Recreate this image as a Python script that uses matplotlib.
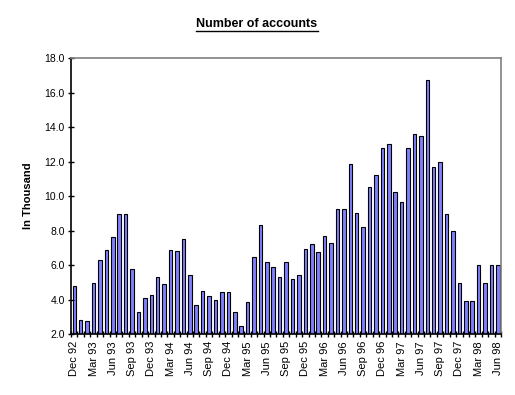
import numpy as np
import matplotlib.pyplot as plt
from matplotlib.lines import Line2D

plt.rcParams['font.family'] = ['Liberation Sans', 'DejaVu Sans']

# monthly values, Dec 92 .. Jun 98 (thousands)
months = ["Dec 92", "Jan 93", "Feb 93", "Mar 93", "Apr 93", "May 93", "Jun 93", "Jul 93",
          "Aug 93", "Sep 93", "Oct 93", "Nov 93", "Dec 93", "Jan 94", "Feb 94", "Mar 94",
          "Apr 94", "May 94", "Jun 94", "Jul 94", "Aug 94", "Sep 94", "Oct 94", "Nov 94",
          "Dec 94", "Jan 95", "Feb 95", "Mar 95", "Apr 95", "May 95", "Jun 95", "Jul 95",
          "Aug 95", "Sep 95", "Oct 95", "Nov 95", "Dec 95", "Jan 96", "Feb 96", "Mar 96",
          "Apr 96", "May 96", "Jun 96", "Jul 96", "Aug 96", "Sep 96", "Oct 96", "Nov 96",
          "Dec 96", "Jan 97", "Feb 97", "Mar 97", "Apr 97", "May 97", "Jun 97", "Jul 97",
          "Aug 97", "Sep 97", "Oct 97", "Nov 97", "Dec 97", "Jan 98", "Feb 98", "Mar 98",
          "Apr 98", "May 98", "Jun 98"]
accounts = [4.8, 2.85, 2.75, 4.95, 6.3, 6.85, 7.65, 8.95,
            8.95, 5.75, 3.3, 4.1, 4.25, 5.3, 4.9, 6.9,
            6.8, 7.5, 5.4, 3.7, 4.5, 4.2, 4.0, 4.45,
            4.45, 3.3, 2.45, 3.85, 6.45, 8.3, 6.2, 5.9,
            5.3, 6.2, 5.2, 5.4, 6.95, 7.2, 6.75, 7.7,
            7.3, 9.25, 9.25, 11.85, 9.0, 8.2, 10.55, 11.2,
            12.8, 13.0, 10.25, 9.65, 12.8, 13.6, 13.5, 16.7,
            11.7, 12.0, 8.95, 7.95, 4.95, 3.95, 3.95, 6.0,
            4.95, 6.0, 6.0]

y_ticks = np.arange(2.0, 18.01, 2.0)

fig = plt.figure(figsize=(5.15, 3.95), dpi=100)
ax = fig.add_axes([0.138, 0.154, 0.835, 0.699])

x = np.arange(len(months))
ax.bar(x, np.array(accounts) - 2.0, bottom=2.0, width=0.55,
       color="#8080ff", edgecolor="black", linewidth=0.8)

ax.set_xlim(-0.5, len(months) - 0.5)
ax.set_ylim(2.0, 18.0)
ax.set_yticks(y_ticks)
ax.set_yticklabels([f"{v:.1f}" for v in y_ticks], fontsize=7.5)
ax.tick_params(axis="y", direction="inout", length=5, width=1, pad=2)

# month ticks at slot boundaries, labels every 3rd month
ax.set_xticks(np.arange(-0.5, len(months), 1.0), minor=True)
ax.set_xticks(x[::3])
ax.set_xticklabels(months[::3], rotation=90, fontsize=8)
ax.tick_params(axis="x", which="major", length=0, pad=5)
ax.tick_params(axis="x", which="minor", direction="inout", length=5, width=1)

for s in ("left", "bottom"):
    ax.spines[s].set_color("black")
    ax.spines[s].set_linewidth(1.2)
for s in ("top", "right"):
    ax.spines[s].set_color("#808080")
    ax.spines[s].set_linewidth(1.2)

ax.set_ylabel("In Thousand", fontsize=8, fontweight="bold", labelpad=8)

title = fig.text(0.499, 0.939, "Number of accounts", ha="center", va="center",
                 fontsize=9, fontweight="bold")
fig.canvas.draw()
bb = title.get_window_extent().transformed(fig.transFigure.inverted())
fig.add_artist(Line2D([bb.x0, bb.x1], [bb.y0 - 0.002, bb.y0 - 0.002],
                      transform=fig.transFigure, color="black", linewidth=1))

fig.savefig("out.png", dpi=100)
